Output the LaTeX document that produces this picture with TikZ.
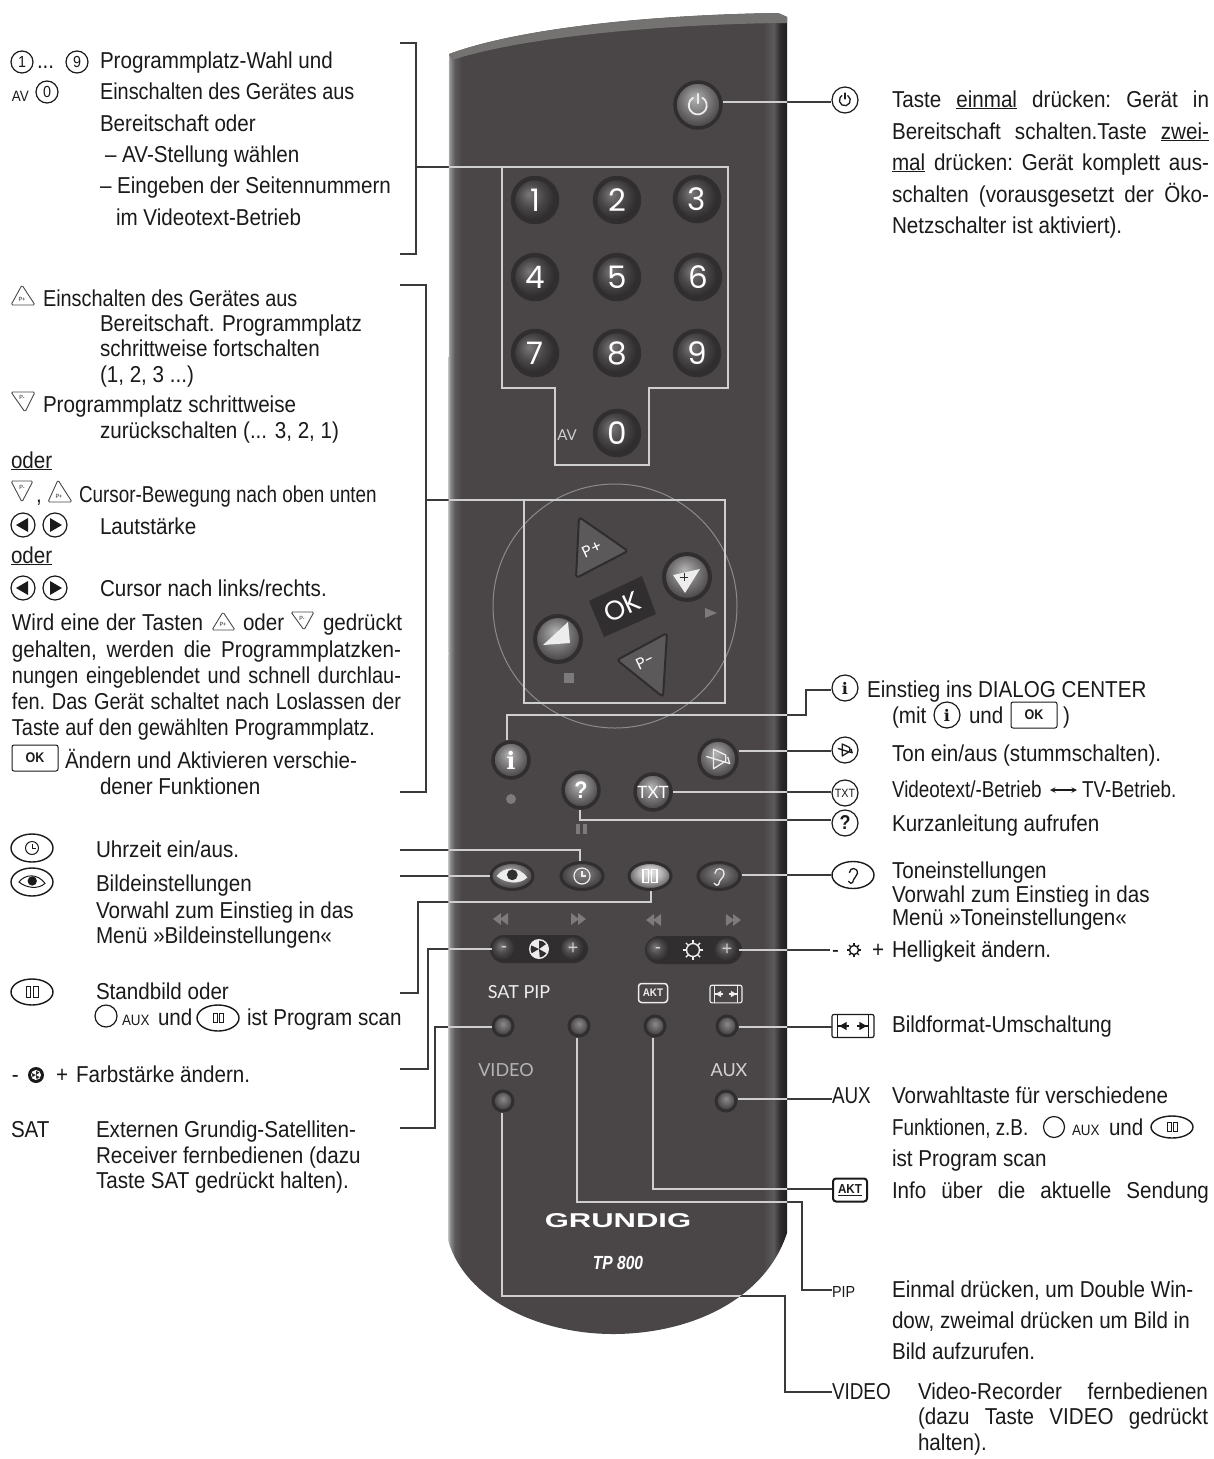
\documentclass[tikz,border=0pt]{standalone}
\usepackage{fontspec}
\usetikzlibrary{shapes.geometric,calc}
\setmainfont[FakeStretch=0.896]{Liberation Sans}
\newfontfamily\nrw[FakeStretch=0.82]{Liberation Sans}
\newfontfamily\mdf[FakeStretch=0.865]{Liberation Sans}
\newfontfamily\lbl{Lato}
\newfontfamily\gnum{Poppins}
\newfontfamily\grund[FakeStretch=1.55]{Liberation Sans}
\newfontfamily\tpf[FakeStretch=0.82]{Liberation Sans}
\newfontfamily\serifb{DejaVu Serif}
\definecolor{body}{HTML}{4A4648}
\definecolor{ringc}{HTML}{312E2F}
\definecolor{linel}{HTML}{CFCFCF}
\definecolor{lined}{HTML}{3A3A3A}
\definecolor{ink}{HTML}{1A1A1A}
\definecolor{g1}{HTML}{7A7878}
\definecolor{g2}{HTML}{4B4849}
\definecolor{g3}{HTML}{2E2C2D}
\definecolor{h1}{HTML}{B4B4B4}
\definecolor{h2}{HTML}{7C7A7A}
\definecolor{h3}{HTML}{454344}
\definecolor{p1}{HTML}{EDEDED}
\definecolor{p2}{HTML}{B5B3B3}
\definecolor{p3}{HTML}{555354}
\definecolor{e1}{HTML}{8C8A8A}
\definecolor{e2}{HTML}{656363}
\definecolor{e3}{HTML}{403E3F}
\definecolor{edgeA}{HTML}{C4C4C4}
\definecolor{edgeB}{HTML}{8E8E8E}
\definecolor{edgeC}{HTML}{5C5A5B}
\definecolor{edgeD}{HTML}{1F1F1F}
\pgfdeclareradialshading{btnN}{\pgfpoint{-7bp}{7bp}}{color(0bp)=(g1); color(14bp)=(g2); color(26bp)=(g3); color(50bp)=(g3)}
\pgfdeclareradialshading{btnH}{\pgfpoint{-3bp}{8bp}}{color(0bp)=(h1); color(14bp)=(h2); color(28bp)=(h3); color(50bp)=(h3)}
\pgfdeclareradialshading{btnP}{\pgfpoint{0bp}{8bp}}{color(0bp)=(p1); color(14bp)=(p2); color(28bp)=(p3); color(50bp)=(p3)}
\pgfdeclareradialshading{btnE}{\pgfpoint{0bp}{6bp}}{color(0bp)=(e1); color(13bp)=(e2); color(25bp)=(e3); color(50bp)=(e3)}
\pgfdeclarehorizontalshading{bodyshade}{100bp}{color(0bp)=(edgeA); color(25bp)=(edgeA); color(25.3bp)=(edgeB); color(26bp)=(edgeC); color(27bp)=(body); color(71.5bp)=(body); color(73bp)=(edgeC); color(74bp)=(g3); color(75bp)=(edgeD); color(100bp)=(edgeD)}
\tikzset{
  txt/.style={anchor=base west,inner sep=0pt,outer sep=0pt,text=ink,font=\fontsize{23}{26}\selectfont},
  ntxt/.style={txt,font=\nrw\fontsize{23}{26}\selectfont},
  conn/.style={line width=1.3pt,draw=lined},
  numbtn/.style={circle,inner sep=0pt,minimum size=44pt,draw=ringc,line width=4.5pt,shade,shading=btnN,text=white,font=\gnum\fontsize{31}{31}\selectfont},
  midbtn/.style={circle,inner sep=0pt,minimum size=36pt,draw=ringc,line width=3.5pt,shade,shading=btnH,text=white},
  lightbtn/.style={circle,inner sep=0pt,minimum size=46pt,draw=ringc,line width=4pt,shade,shading=btnH},
  smallbtn/.style={circle,inner sep=0pt,minimum size=20pt,draw=ringc,line width=3pt,shade,shading=btnE},
  ovalbtn/.style={ellipse,inner sep=0pt,minimum width=42pt,minimum height=27pt,draw=ringc,line width=3pt,shade,shading=btnE},
  rlabel/.style={inner sep=0pt,text=#1,font=\lbl\fontsize{18}{18}\selectfont},
  ic/.style={circle,inner sep=0pt,minimum size=#1,draw=ink,line width=1.2pt,text=ink},
  ov/.style={ellipse,inner sep=0pt,minimum width=42pt,minimum height=#1,draw=ink,line width=1.4pt,text=ink},
  okbox/.style={rectangle,rounded corners=2pt,inner sep=0pt,minimum width=46pt,minimum height=26pt,draw=ink,line width=1pt,text=ink,font=\fontsize{14}{14}\selectfont\bfseries},
  tribtn/.style={draw=g3,line width=2pt,fill=h3!60!h2,rounded corners=3pt,line join=round},
  ictri/.style={draw=ink!80,line width=.9pt,rounded corners=1.5pt,line join=round},
  tinyp/.style={inner sep=0pt,font=\fontsize{6}{6}\selectfont,text=ink}
}
\newcounter{tn}
\newcommand\Tx[3]{\stepcounter{tn}\node[txt] (t\thetn) at (#1,#2) {#3};}
\newcommand\Jx[4]{\stepcounter{tn}\node[txt] (t\thetn) at (#1,#2) {\hbox to #3pt{\frenchspacing\spaceskip=.24em plus 1fil minus .05em\relax #4}};}
\newcommand\remotepath{(449,54) .. controls (520,28) and (650,15) .. (778,13) -- (787,17) -- (787,1233) .. controls (765,1300) and (690,1334) .. (613,1334) .. controls (540,1334) and (465,1300) .. (448,1240) -- cycle}
\newcommand\powersym[4]{\draw[#4,line width=#3pt,line cap=round] ($(#1)+(.5*#2,-.8*#2)$) arc (-58:238:#2); \draw[#4,line width=#3pt,line cap=round] ($(#1)+(0,-1.25*#2)$) -- ($(#1)+(0,-.2*#2)$);}
\newcommand\pausesym[5]{\draw[#5,line width=#4pt] ($(#1,#2)+(-#3,-.9*#3)$) rectangle ++(.8*#3,1.8*#3) ($(#1,#2)+(.2*#3,-.9*#3)$) rectangle ++(.8*#3,1.8*#3);}
\newcommand\clocksym[4]{\draw[#4,line width=#3pt] ($(#1)+(0,0)$) circle [radius=#2]; \draw[#4,line width=#3pt] ($(#1)+(0,-.6*#2)$) -- ($(#1)+(0,0)$) -- ($(#1)+(.55*#2,0)$);}
\newcommand\eyesym[5]{\filldraw[#4] ($(#1)+(-#2,0)$) .. controls ($(#1)+(-.55*#2,-.6*#2)$) and ($(#1)+(.4*#2,-.7*#2)$) .. ($(#1)+(#2,.1*#2)$) .. controls ($(#1)+(.5*#2,.6*#2)$) and ($(#1)+(-.5*#2,.45*#2)$) .. cycle; \fill[#5] ($(#1)+(.02*#2,-.08*#2)$) circle [radius=.36*#2];}
\newcommand\sunsym[3]{\draw[#3,line width=1.4pt] (#1) circle [radius=#2]; \foreach \a in {0,45,...,315}{\draw[#3,line width=1.4pt] ($(#1)+(\a:#2)$) -- ($(#1)+(\a:1.55*#2)$);}}
\newcommand\wheelsym[3]{\fill[#2] (#1) circle [radius=#3]; \foreach \a in {30,150,270}{\fill[ringc] (#1) -- ($(#1)+(\a:.85*#3)$) arc (\a:\a+55:.85*#3) -- cycle;}}
\newcommand\dblleft[3]{\fill[#3] (#1,#2) -- ++(8,-6) -- ++(0,12) -- cycle; \fill[#3] (#1+7,#2) -- ++(8,-6) -- ++(0,12) -- cycle;}
\newcommand\dblright[3]{\fill[#3] (#1,#2) -- ++(-8,-6) -- ++(0,12) -- cycle; \fill[#3] (#1-7,#2) -- ++(-8,-6) -- ++(0,12) -- cycle;}
\newcommand\fmtsym[5]{\draw[#3,line width=#5pt,rounded corners=2pt] ($(#1,#2)+(-#4,-.55*#4)$) rectangle ($(#1,#2)+(#4,.55*#4)$);
  \draw[#3,line width=#5pt] ($(#1,#2)+(-.72*#4,-.55*#4)$) -- ++(0,1.1*#4) ($(#1,#2)+(.72*#4,-.55*#4)$) -- ++(0,1.1*#4);
  \draw[#3,line width=#5pt] ($(#1,#2)+(-.72*#4,0)$) -- ++(.55*#4,0) ($(#1,#2)+(.72*#4,0)$) -- ++(-.55*#4,0);
  \fill[#3] ($(#1,#2)+(-.65*#4,0)$) -- ++(.35*#4,-.2*#4) -- ++(0,.4*#4) -- cycle; \fill[#3] ($(#1,#2)+(.65*#4,0)$) -- ++(-.35*#4,-.2*#4) -- ++(0,.4*#4) -- cycle;}
\newcommand\earsym[3]{\draw[#3,line width=1.3pt,line cap=round] ($(#1)+(-.45*#2,-.3*#2)$) .. controls ($(#1)+(-.4*#2,-#2)$) and ($(#1)+(.6*#2,-#2)$) .. ($(#1)+(.55*#2,-.2*#2)$) .. controls ($(#1)+(.5*#2,.25*#2)$) and ($(#1)+(.05*#2,.3*#2)$) .. ($(#1)+(-.05*#2,.95*#2)$) .. controls ($(#1)+(-.15*#2,1.1*#2)$) and ($(#1)+(-.4*#2,1.05*#2)$) .. ($(#1)+(-.55*#2,.8*#2)$);}
\newcommand\mutesym[3]{\draw[#3,line width=1.3pt,line join=round] ($(#1)+(-.9*#2,-.2*#2)$) -- ($(#1)+(.9*#2,.35*#2)$) -- ($(#1)+(.75*#2,-.15*#2)$) ($(#1)+(-.35*#2,-.75*#2)$) -- ($(#1)+(-.35*#2,.75*#2)$) -- ($(#1)+(.6*#2,.15*#2)$) -- ($(#1)+(.6*#2,-.3*#2)$) -- cycle;}
\newcommand\connectors{
  \draw[conn] (bpwr.east|-0,102) -- (ipwr.west|-0,102);
  \draw[conn] (brAa) -- (brAb) -- (brAc) -- (brAd);
  \draw[conn] (brAm) -- (boxA);
  \draw[conn] (brBa) -- (brBb) -- (brBc) -- (brBd);
  \draw[conn] (brBm) -- (boxB);
  \draw[conn] (boxA) -- (728,167) -- (728,388) -- (649,388) -- (649,465) -- (555,465) -- (555,388) -- (502,388) -- cycle;
  \draw[conn] (boxB) rectangle (725,703);
  \draw[conn] (507,0|-bi.north) -- (507,715) -- (806,715) -- (806,690) -- (ii.west|-0,690);
  \draw[conn] (bmute.east|-0,751) -- (imute.west|-0,751);
  \draw[conn] (btxt.east|-0,792) -- (itxt.west|-0,792);
  \draw[conn] (580,0|-bq.south) -- (580,820) -- (iq.west|-0,820);
  \draw[conn] (bear.east|-0,875) -- (iear.west|-0,875);
  \draw[conn] (bplus.east|-0,950) -- (ihell);
  \draw[conn] (580,0|-bclock.north) -- (580,850) -- (lclock);
  \draw[conn] (beye.west|-0,876) -- (leye);
  \draw[conn] (651,0|-bpause.south) -- (651,902) -- (418,902) -- (418,993) -- (lpause);
  \draw[conn] (bminus.west|-0,949) -- (428,949) -- (428,1069) -- (lfarb);
  \draw[conn] (bsat.west|-0,1027) -- (435,1027) -- (435,1128) -- (lsat);
  \draw[conn] (bfmt.east|-0,1027) -- (ifmt);
  \draw[conn] (baux.east|-0,1099) -- (laux.west|-0,1099);
  \draw[conn] (653,0|-bakt.south) -- (653,1189) -- (iakt.west|-0,1189);
  \draw[conn] (577,0|-bpip.south) -- (577,1202) -- (802,1202) -- (802,1290) -- (lpip.west|-0,1290);
  \draw[conn] (502,0|-bvid.south) -- (502,1296) -- (785,1296) -- (785,1392) -- (lvid.west|-0,1392);
}
\begin{document}
\begin{tikzpicture}[x=1pt,y=-1pt]
\useasboundingbox (0,0) rectangle (1214,1459);
\fill[white] (0,0) rectangle (1214,1459);
% remote body
\shade[shading=bodyshade] \remotepath;
\begin{scope}
\clip \remotepath;
\fill[h2!85!body] (440,40) -- (449,54) .. controls (520,28) and (650,15) .. (778,13) -- (790,17) -- (790,23) -- (778,23) .. controls (650,25) and (520,38) .. (452,60) -- cycle;
\end{scope}
% key anchors
\coordinate (brAa) at (400,43); \coordinate (brAb) at (416,43); \coordinate (brAc) at (416,254); \coordinate (brAd) at (400,254); \coordinate (brAm) at (416,167); \coordinate (boxA) at (502,167);
\coordinate (brBa) at (400,285); \coordinate (brBb) at (426,285); \coordinate (brBc) at (426,792); \coordinate (brBd) at (400,792); \coordinate (brBm) at (426,500); \coordinate (boxB) at (524,500);
\coordinate (lclock) at (400,850); \coordinate (leye) at (400,876); \coordinate (lpause) at (400,993); \coordinate (lfarb) at (400,1069); \coordinate (lsat) at (400,1128);
\coordinate (ihell) at (830,950); \coordinate (ifmt) at (832,1027);
% power
\node[circle,inner sep=0pt,minimum size=46pt,draw=ringc,line width=3.5pt,shade,shading=btnH] (bpwr) at (698,105) {};
\powersym{bpwr}{9}{1.8}{draw=p1}
% digits
\node[numbtn] (n1) at (535,200) {1};
\node[numbtn] (n2) at (617,200) {2};
\node[numbtn] (n3) at (697,199) {3};
\node[numbtn] (n4) at (535,277) {4};
\node[numbtn] (n5) at (617,277) {5};
\node[numbtn] (n6) at (698,277) {6};
\node[numbtn] (n7) at (535,353) {7};
\node[numbtn] (n8) at (617,353) {8};
\node[numbtn] (n9) at (697,353) {9};
\node[numbtn] (n0) at (617,433) {0};
\node[rlabel=linel,font=\lbl\fontsize{15}{15}\selectfont] (lav) at (567,435) {AV};
% cursor cluster
\draw[e1,line width=1pt] (615,606) circle [radius=122];
\draw[tribtn] (579,517) -- (628,551) -- (576,578) -- cycle;
\draw[tribtn] (667,633) -- (663,697) -- (617,660) -- cycle;
\node[rotate=25,text=white,inner sep=0pt,font=\gnum\fontsize{16}{16}\selectfont] (tpp) at (592,549) {P+};
\node[rotate=25,text=white,inner sep=0pt,font=\gnum\fontsize{16}{16}\selectfont] (tpm) at (645,662) {P-};
\fill[ringc] (642,576) -- (656,614) -- (604,637) -- (589,601) -- cycle;
\node[rotate=25,text=white,inner sep=0pt,font=\gnum\fontsize{27}{27}\selectfont] (tok) at (622,607) {OK};
\node[lightbtn] (bright) at (687,577) {};
\fill[p1] (700,569) -- (673,575) -- (685,593) -- cycle;
\draw[ringc,line width=1pt] (680,577) -- (688,577) (684,573) -- (684,581);
\node[lightbtn] (bleft) at (558,639) {};
\fill[p1] (543,645) -- (570,643) -- (568,622) -- cycle;
\fill[h2] (705,608) -- (717,613) -- (705,618) -- cycle;
\fill[h2] (564,673) rectangle (574,683);
% i mute ? txt
\node[midbtn,font=\serifb\bfseries\fontsize{24}{24}\selectfont] (bi) at (511,760) {i};
\node[midbtn,font=\bfseries\fontsize{24}{24}\selectfont] (bq) at (581,790) {?};
\node[midbtn,font=\lbl\fontsize{17}{17}\selectfont] (btxt) at (653,792) {TXT};
\node[midbtn,minimum size=38pt] (bmute) at (718,759) {};
\mutesym{bmute}{13}{draw=p1}
\fill[h2] (511,799) circle [radius=5];
\fill[h2] (576,824) rectangle (579.5,834); \fill[h2] (583,824) rectangle (586.5,834);
% oval row
\node[ovalbtn,shading=btnH] (beye) at (512,876) {};
\eyesym{beye}{15}{}{p1}{ringc}
\node[ovalbtn] (bclock) at (582,876) {};
\clocksym{bclock}{8}{1.2}{draw=p1}
\node[ovalbtn,shading=btnP] (bpause) at (650,876) {};
\pausesym{650}{876}{7}{1.2}{draw=white}
\node[ovalbtn] (bear) at (719,876) {};
\earsym{bear}{9}{draw=p1}
% pills
\dblleft{493}{919}{h2}
\dblright{586}{919}{h2}
\dblleft{646}{920}{h2}
\dblright{741}{920}{h2}
\fill[ringc,rounded corners=14pt] (490,935) rectangle (588,963);
\fill[ringc,rounded corners=14pt] (645,936) rectangle (742,964);
\node[circle,inner sep=0pt,minimum size=24pt,shade,shading=btnN,text=linel,font=\fontsize{20}{20}\selectfont] (bminus) at (504,949) {-};
\node[circle,inner sep=0pt,minimum size=24pt,shade,shading=btnN,text=linel,font=\fontsize{20}{20}\selectfont] (bpl) at (573,949) {+};
\wheelsym{539,949}{p1}{10}
\node[circle,inner sep=0pt,minimum size=24pt,shade,shading=btnN,text=linel,font=\fontsize{20}{20}\selectfont] (bmn) at (658,950) {-};
\node[circle,inner sep=0pt,minimum size=24pt,shade,shading=btnN,text=linel,font=\fontsize{20}{20}\selectfont] (bplus) at (727,950) {+};
\sunsym{693,950}{6.5}{draw=p1}
% labels and small buttons
\node[rlabel=p1] (lsatpip) at (519,992) {SAT PIP};
\node[rounded corners=3pt,draw=p1,line width=1.5pt,inner sep=0pt,minimum width=29pt,minimum height=19pt,text=p1,font=\bfseries\fontsize{11}{11}\selectfont] (rakt) at (653,993) {AKT};
\fmtsym{726}{994}{p1}{16}{1.1}
\node[smallbtn] (bsat) at (503,1026) {};
\node[smallbtn] (bpip) at (579,1026) {};
\node[smallbtn] (bakt) at (655,1026) {};
\node[smallbtn] (bfmt) at (727,1026) {};
\node[rlabel=h1] (lvideo) at (506,1070) {VIDEO};
\node[rlabel=p2!60!white] (lauxr) at (729,1070) {AUX};
\node[smallbtn] (bvid) at (503,1101) {};
\node[smallbtn] (baux) at (726,1101) {};
\node[text=white,inner sep=0pt,font=\grund\bfseries\fontsize{20}{20}\selectfont] (lgrundig) at (618,1221) {GRUNDIG};
\node[text=white,inner sep=0pt,font=\tpf\bfseries\itshape\fontsize{19}{19}\selectfont] (ltp) at (618,1263) {TP 800};
%
% RIGHT icons
\node[ic=26pt] (ipwr) at (845,100) {};
\powersym{ipwr}{5.5}{1.3}{draw=ink}
\node[ic=26pt,font=\serifb\bfseries\fontsize{16}{16}\selectfont] (ii) at (845,688) {i};
\node[ic=26pt,font=\serifb\bfseries\fontsize{16}{16}\selectfont] (ii2) at (947,715) {i};
\node[okbox] (iok) at (1034,715) {OK};
\node[ic=26pt] (imute) at (845,750) {};
\mutesym{imute}{8}{draw=ink}
\node[ic=26pt,font=\fontsize{12}{12}\selectfont] (itxt) at (845,793) {TXT};
\node[ic=26pt,font=\bfseries\fontsize{20}{20}\selectfont] (iq) at (845,823) {?};
\node[ov=27pt] (iear) at (853,875) {};
\earsym{iear}{8}{draw=ink}
\Tx{832}{957}{-}
\sunsym{854,950}{4.5}{draw=ink}
\Tx{872}{957}{+}
\fmtsym{853}{1026}{ink}{21}{1.2}
\node[ntxt] (laux) at (832,1103) {AUX};
\node[rounded corners=3pt,draw=ink,line width=2pt,inner sep=0pt,minimum width=34pt,minimum height=23pt,text=ink,font=\bfseries\fontsize{13}{13}\selectfont] (iakt) at (850,1190) {\underline{AKT}};
\node[txt,font=\fontsize{16}{16}\selectfont] (lpip) at (832,1297) {PIP};
\node[ntxt] (lvid) at (832,1399) {VIDEO};
% RIGHT text
\Jx{892}{107}{317}{Taste \underline{einmal} drücken: Gerät in}
\Jx{892}{139}{317}{Bereitschaft schalten.Taste \underline{zwei-}}
\Jx{892}{170}{317}{\underline{mal} drücken: Gerät komplett aus-}
\Jx{892}{202}{317}{schalten (vorausgesetzt der Öko-}
\Tx{892}{233}{Netzschalter ist aktiviert).}
\Tx{867}{697}{Einstieg ins DIALOG CENTER}
\Tx{892}{723}{(mit}
\Tx{969}{723}{und}
\Tx{1063}{723}{)}
\Tx{892}{761}{Ton ein/aus (stummschalten).}
\Tx{892}{797}{\nrw Videotext/-Betrieb}
\draw[ink,line width=1.4pt,<->,>=stealth] (1050,790) -- (1077,790);
\Tx{1082}{797}{\nrw TV-Betrieb.}
\Tx{892}{831}{Kurzanleitung aufrufen}
\Tx{892}{878}{Toneinstellungen}
\Tx{892}{902}{Vorwahl zum Einstieg in das}
\Tx{892}{925}{Menü »Toneinstellungen«}
\Tx{892}{957}{Helligkeit ändern.}
\Tx{892}{1032}{Bildformat-Umschaltung}
\Tx{892}{1103}{Vorwahltaste für verschiedene}
\Tx{892}{1135}{\nrw Funktionen, z.B.}
\node[ic=21pt] (iaux2) at (1054,1127) {};
\node[txt,font=\fontsize{15}{15}\selectfont] (laux2) at (1072,1135) {AUX};
\Tx{1109}{1135}{und}
\node[ov=22pt] (ipause2) at (1172,1127) {};
\pausesym{1172}{1127}{5}{.8}{draw=ink}
\Tx{892}{1166}{ist Program scan}
\Jx{892}{1198}{317}{Info über die aktuelle Sendung}
\Tx{892}{1297}{Einmal drücken, um Double Win-}
\Tx{892}{1328}{dow, zweimal drücken um Bild in}
\Tx{892}{1359}{Bild aufzurufen.}
\Jx{918}{1399}{290}{Video-Recorder fernbedienen}
\Jx{918}{1424}{290}{(dazu Taste VIDEO gedrückt}
\Tx{918}{1450}{halten).}
% LEFT block 1
\node[ic=22pt,font=\fontsize{16}{16}\selectfont] (c1) at (22,62) {1};
\Tx{37}{68}{...}
\node[ic=22pt,font=\fontsize{16}{16}\selectfont] (c9) at (77,62) {9};
\node[txt,font=\fontsize{15}{15}\selectfont] (lav2) at (12,101) {AV};
\node[ic=22pt,font=\fontsize{16}{16}\selectfont] (c0) at (47,92) {0};
\Tx{100}{68}{Programmplatz-Wahl und}
\Tx{100}{99}{\mdf Einschalten des Gerätes aus}
\Tx{100}{131}{Bereitschaft oder}
\Tx{105}{162}{– AV-Stellung wählen}
\Tx{100}{193}{– Eingeben der Seitennummern}
\Tx{116}{225}{im Videotext-Betrieb}
% LEFT block 2
\draw[ictri] (22,285) -- (35,305) -- (11,305) -- cycle;
\node[tinyp] (pt1) at (22,299) {P+};
\Tx{43}{306}{\mdf Einschalten des Gerätes aus}
\Tx{100}{331}{Bereitschaft. Programmplatz}
\Tx{100}{356}{schrittweise fortschalten}
\Tx{100}{382}{(1, 2, 3 ...)}
\draw[ictri] (11,392) -- (35,392) -- (25,412) -- cycle;
\node[tinyp] (pt2) at (22,397) {P-};
\Tx{43}{412}{Programmplatz schrittweise}
\Tx{100}{438}{zurückschalten (... 3, 2, 1)}
\Tx{11}{468}{\underline{oder}}
\draw[ictri] (11,481) -- (33,481) -- (22,502) -- cycle;
\node[tinyp] (pt3) at (22,487) {P-};
\Tx{36}{502}{,}
\draw[ictri] (58,480) -- (72,502) -- (48,502) -- cycle;
\node[tinyp] (pt4) at (59,496) {P+};
\node[ntxt] (lcursor) at (79,502) {Cursor-Bewegung nach oben unten};
\node[ic=24pt] (cl1) at (23,525) {};
\fill[ink] (16,525) -- (28,518) -- (28,532) -- cycle;
\node[ic=24pt] (cr1) at (55,525) {};
\fill[ink] (62,525) -- (50,518) -- (50,532) -- cycle;
\Tx{100}{534}{Lautstärke}
\Tx{11}{563}{\underline{oder}}
\node[ic=24pt] (cl2) at (23,588) {};
\fill[ink] (16,588) -- (28,581) -- (28,595) -- cycle;
\node[ic=24pt] (cr2) at (55,588) {};
\fill[ink] (62,588) -- (50,581) -- (50,595) -- cycle;
\Tx{100}{596}{Cursor nach links/rechts.}
\Jx{12}{630}{191}{Wird eine der Tasten}
\draw[ictri] (223,612) -- (235,630) -- (212,630) -- cycle;
\node[tinyp] (pt5) at (223,624) {P+};
\Tx{243}{630}{oder}
\draw[ictri] (291,612) -- (314,612) -- (304,630) -- cycle;
\node[tinyp] (pt6) at (302,618) {P-};
\Tx{323}{630}{gedrückt}
\Jx{12}{657}{389}{gehalten, werden die Programmplatzken-}
\Jx{12}{683}{389}{\mdf nungen eingeblendet und schnell durchlau-}
\Jx{12}{709}{389}{\mdf fen. Das Gerät schaltet nach Loslassen der}
\Jx{12}{735}{363}{\mdf Taste auf den gewählten Programmplatz.}
\node[okbox] (lok) at (35,758) {OK};
\Tx{65}{768}{Ändern und Aktivieren verschie-}
\Tx{100}{794}{dener Funktionen}
% LEFT block 3
\node[ov=28pt] (iclock) at (32,848) {};
\clocksym{iclock}{6.5}{1}{draw=ink}
\Tx{96}{857}{Uhrzeit ein/aus.}
\node[ov=28pt] (ieye) at (32,882) {};
\eyesym{ieye}{13}{}{draw=ink,line width=1pt,fill=white}{ink}
\Tx{96}{891}{Bildeinstellungen}
\Tx{96}{918}{Vorwahl zum Einstieg in das}
\Tx{96}{943}{Menü »Bildeinstellungen«}
\node[ov=26pt] (ipause) at (32,992) {};
\pausesym{32}{992}{6}{.9}{draw=ink}
\Tx{96}{999}{Standbild oder}
\node[ic=22pt] (iaux1) at (106,1016) {};
\node[txt,font=\fontsize{15}{15}\selectfont] (laux1) at (122,1025) {AUX};
\Tx{158}{1025}{und}
\node[ov=26pt] (ipause3) at (218,1018) {};
\pausesym{218}{1018}{5}{.8}{draw=ink}
\Tx{247}{1025}{ist Program scan}
\Tx{12}{1082}{-}
\fill[ink] (36,1075) circle [radius=8];
\wheelsym{36,1075}{white}{5}
\Tx{56}{1082}{+}
\Tx{76}{1082}{Farbstärke ändern.}
\Tx{11}{1137}{SAT}
\Tx{96}{1137}{Externen Grundig-Satelliten-}
\Tx{96}{1163}{Receiver fernbedienen (dazu}
\Tx{96}{1188}{Taste SAT gedrückt halten).}
% connectors: dark everywhere, light where they cross the remote
\connectors
\begin{scope}
\clip \remotepath;
\tikzset{conn/.style={line width=1.5pt,draw=linel}}
\connectors
\end{scope}
\end{tikzpicture}
\end{document}
